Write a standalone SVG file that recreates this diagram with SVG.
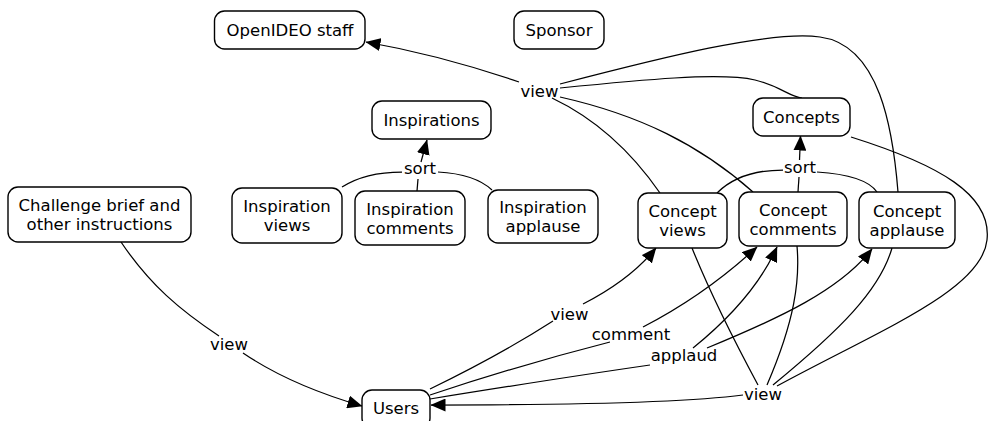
<svg xmlns="http://www.w3.org/2000/svg" width="990" height="421" viewBox="0 0 990 421">
  <style>
    .node rect { fill: #ffffff; stroke: #000000; stroke-width: 1.4; }
    text { font-family: "DejaVu Sans", Verdana, sans-serif; font-size: 16.5px; fill: #000000; text-anchor: middle; }
    .edge path { fill: none; stroke: #000000; stroke-width: 1.25; }
    .edge path.arr { marker-end: url(#head); }
  </style>
  <defs>
    <marker id="head" markerUnits="userSpaceOnUse" markerWidth="15" markerHeight="13" viewBox="0 0 15 13" refX="14.5" refY="6.5" orient="auto">
      <path d="M0,0 L15,6.5 L0,13 z" fill="#000000"/>
    </marker>
  </defs>
  <rect width="990" height="421" fill="#ffffff"/>

  <!-- connectors and linking phrases -->
  <g id="connectors" class="edge">
    <!-- Challenge brief -> view -> Users -->
    <path d="M121,242 C150,285 180,310 219,336"/>
    <path class="arr" d="M243,353 Q290,385 362,406"/>

    <!-- Inspiration metrics -> sort -> Inspirations -->
    <path d="M342,187 Q365,172 402,172"/>
    <path d="M417,191 L418,179"/>
    <path d="M438,172 Q475,174 492,190"/>
    <path class="arr" d="M421,162 L427,140"/>

    <!-- Concept metrics -> sort -> Concepts -->
    <path d="M717,193 Q740,170 783,170"/>
    <path d="M798,192 L799,177"/>
    <path d="M817,172 Q865,175 877,192"/>
    <path class="arr" d="M799.5,160 L800.5,136"/>

    <!-- concept nodes -> view -> OpenIDEO staff -->
    <path d="M560,84 C660,58 770,30 820,37 C880,45 893,130 898,192"/>
    <path d="M560,88 C640,80 720,72 755,80 C780,86 790,97 802,98"/>
    <path d="M560,97 C640,115 700,145 753,192"/>
    <path d="M552,98 Q615,128 660,193"/>
    <path class="arr" d="M519,82 Q440,55 366,42"/>

    <!-- Users -> view -> Concept views -->
    <path d="M430,389 Q500,355 553,321"/>
    <path class="arr" d="M583,304 Q630,280 656,248"/>

    <!-- Users -> comment -> Concept comments -->
    <path d="M430,395 Q520,365 610,342"/>
    <path class="arr" d="M643,327 Q705,295 757,247"/>

    <!-- Users -> applaud -> Concept comments / Concept applause -->
    <path d="M430,399 Q560,378 650,365"/>
    <path class="arr" d="M693,348 C730,318 760,285 777,247"/>
    <path class="arr" d="M707,348 C780,318 840,290 872,249"/>

    <!-- concept nodes -> view -> Users -->
    <path d="M692,248 Q715,305 758,385"/>
    <path d="M797,246 C800,280 795,320 767,385"/>
    <path d="M892,248 C880,290 840,330 773,385"/>
    <path d="M851,137 C940,165 992,195 987,240 C982,290 880,330 777,386"/>
    <path class="arr" d="M743,395 C690,402 600,405 431,405"/>

    <text x="229" y="350">view</text>
    <text x="420" y="174">sort</text>
    <text x="800" y="173">sort</text>
    <text x="539.5" y="97">view</text>
    <text x="569.5" y="320">view</text>
    <text x="631" y="340">comment</text>
    <text x="684" y="361">applaud</text>
    <text x="763" y="400">view</text>
  </g>

  <!-- concept nodes -->
  <g id="openideo-staff" class="node">
    <rect x="214.5" y="11" width="150.5" height="38" rx="10"/>
    <text x="290" y="35.5">OpenIDEO staff</text>
  </g>
  <g id="sponsor" class="node">
    <rect x="514" y="11" width="90" height="38" rx="10"/>
    <text x="559" y="35.5">Sponsor</text>
  </g>
  <g id="inspirations" class="node">
    <rect x="372" y="101" width="119" height="38" rx="10"/>
    <text x="431.5" y="125.5">Inspirations</text>
  </g>
  <g id="concepts" class="node">
    <rect x="753" y="98" width="97" height="38" rx="10"/>
    <text x="801.5" y="122.5">Concepts</text>
  </g>
  <g id="challenge-brief" class="node">
    <rect x="8" y="187" width="183" height="55" rx="10"/>
    <text x="99.5" y="211">Challenge brief and</text>
    <text x="99.5" y="230">other instructions</text>
  </g>
  <g id="inspiration-views" class="node">
    <rect x="232" y="188" width="110" height="55" rx="10"/>
    <text x="287" y="212">Inspiration</text>
    <text x="287" y="231">views</text>
  </g>
  <g id="inspiration-comments" class="node">
    <rect x="355" y="191" width="110" height="54" rx="10"/>
    <text x="410" y="214.5">Inspiration</text>
    <text x="410" y="233.5">comments</text>
  </g>
  <g id="inspiration-applause" class="node">
    <rect x="488" y="190" width="110" height="53" rx="10"/>
    <text x="543" y="213">Inspiration</text>
    <text x="543" y="232">applause</text>
  </g>
  <g id="concept-views" class="node">
    <rect x="638" y="193" width="89" height="55" rx="10"/>
    <text x="682.5" y="216.5">Concept</text>
    <text x="682.5" y="235.5">views</text>
  </g>
  <g id="concept-comments" class="node">
    <rect x="739" y="192" width="108" height="54" rx="10"/>
    <text x="793" y="215.5">Concept</text>
    <text x="793" y="234.5">comments</text>
  </g>
  <g id="concept-applause" class="node">
    <rect x="859" y="192" width="96" height="56" rx="10"/>
    <text x="907" y="216.5">Concept</text>
    <text x="907" y="235.5">applause</text>
  </g>
  <g id="users" class="node">
    <rect x="362" y="390" width="68" height="38" rx="10"/>
    <text x="396" y="413.5">Users</text>
  </g>
</svg>
